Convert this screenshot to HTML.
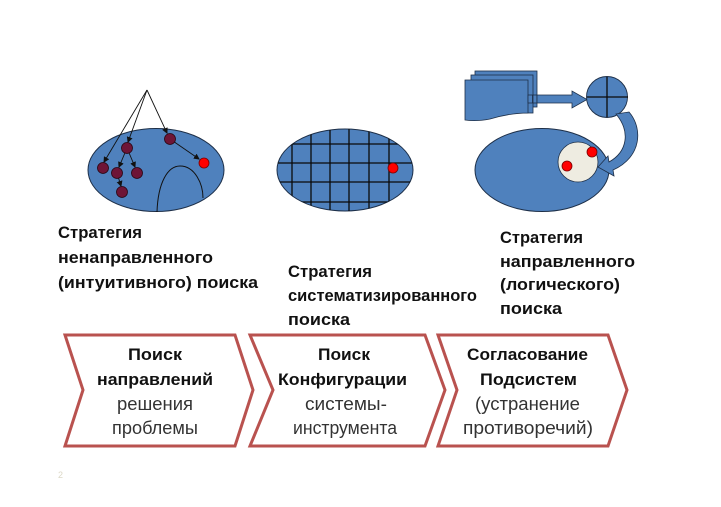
<!DOCTYPE html>
<html>
<head>
<meta charset="utf-8">
<style>
html,body{margin:0;padding:0;background:#fff;}
svg{display:block;}
text{font-family:"Liberation Sans","DejaVu Sans",sans-serif;}
.lb{font-weight:bold;font-size:17px;fill:#111;}
.cb{font-weight:bold;font-size:17px;fill:#111;}
.cr{font-size:18.5px;fill:#333;}
</style>
</head>
<body>
<svg width="721" height="507" viewBox="0 0 721 507" xmlns="http://www.w3.org/2000/svg">
<defs>
  <clipPath id="e2"><ellipse cx="345" cy="170" rx="68" ry="41"/></clipPath>
  <marker id="ah" markerWidth="6" markerHeight="6" refX="5" refY="3" orient="auto" markerUnits="userSpaceOnUse">
    <path d="M0,0 L6,3 L0,6 Z" fill="#111"/>
  </marker>
</defs>

<!-- Ellipse 1 -->
<ellipse cx="156" cy="170" rx="68" ry="41.5" fill="#4f81bd" stroke="#1d2f48" stroke-width="1"/>
<path d="M157,212 C158,182 168,166 180,166 C195,166 203,184 203,198" fill="none" stroke="#111" stroke-width="1"/>
<g stroke="#111" stroke-width="0.9" fill="none">
  <line x1="147" y1="90" x2="104" y2="162" marker-end="url(#ah)"/>
  <line x1="147" y1="90" x2="128" y2="142" marker-end="url(#ah)"/>
  <line x1="147" y1="90" x2="167" y2="133" marker-end="url(#ah)"/>
  <line x1="127" y1="148" x2="119" y2="167" marker-end="url(#ah)"/>
  <line x1="127" y1="148" x2="135" y2="167" marker-end="url(#ah)"/>
  <line x1="117" y1="173" x2="121" y2="186" marker-end="url(#ah)"/>
  <line x1="170" y1="139" x2="199" y2="159" marker-end="url(#ah)"/>
</g>
<g fill="#6e1537" stroke="#2a0512" stroke-width="0.8">
  <circle cx="103" cy="168" r="5.5"/>
  <circle cx="127" cy="148" r="5.5"/>
  <circle cx="117" cy="173" r="5.5"/>
  <circle cx="137" cy="173" r="5.5"/>
  <circle cx="122" cy="192" r="5.5"/>
  <circle cx="170" cy="139" r="5.5"/>
</g>
<circle cx="204" cy="163" r="5" fill="#ff0000" stroke="#7a0000" stroke-width="0.8"/>

<!-- Ellipse 2 -->
<ellipse cx="345" cy="170" rx="68" ry="41" fill="#4f81bd" stroke="#1d2f48" stroke-width="1"/>
<g clip-path="url(#e2)" stroke="#0a0a0a" stroke-width="1.3">
  <line x1="292" y1="120" x2="292" y2="220"/>
  <line x1="311" y1="120" x2="311" y2="220"/>
  <line x1="330" y1="120" x2="330" y2="220"/>
  <line x1="349" y1="120" x2="349" y2="220"/>
  <line x1="369" y1="120" x2="369" y2="220"/>
  <line x1="389" y1="120" x2="389" y2="220"/>
  <line x1="270" y1="144" x2="420" y2="144"/>
  <line x1="270" y1="163" x2="420" y2="163"/>
  <line x1="270" y1="182" x2="420" y2="182"/>
  <line x1="270" y1="202" x2="420" y2="202"/>
</g>
<circle cx="393" cy="168" r="5" fill="#ff0000" stroke="#7a0000" stroke-width="0.8"/>

<!-- Ellipse 3 group -->
<ellipse cx="542" cy="170" rx="67" ry="41.5" fill="#4f81bd" stroke="#1d2f48" stroke-width="1"/>
<circle cx="578" cy="162" r="20" fill="#eeece1" stroke="#1d2f48" stroke-width="0.8"/>
<circle cx="592" cy="152" r="5" fill="#ff0000" stroke="#7a0000" stroke-width="0.8"/>
<circle cx="567" cy="166" r="5" fill="#ff0000" stroke="#7a0000" stroke-width="0.8"/>

<!-- documents -->
<g fill="#4f81bd" stroke="#1d2f48" stroke-width="0.8">
  <rect x="475" y="71" width="62" height="36"/>
  <rect x="471" y="75" width="62" height="38"/>
  <path d="M465,80 L528,80 L528,113 C512,113 500,116 490,119 C480,121 472,121 465,120 Z"/>
  <rect x="528" y="95" width="4.5" height="8"/>
  <rect x="533" y="95" width="4" height="8"/>
  <path d="M537,95 L572,95 L572,91 L587,99.5 L572,108 L572,103 L537,103 Z"/>
</g>
<circle cx="607" cy="97" r="20.5" fill="#4f81bd" stroke="#1d2f48" stroke-width="0.9"/>
<line x1="587" y1="97" x2="628" y2="97" stroke="#0a0a0a" stroke-width="1.3"/>
<line x1="607" y1="77" x2="607" y2="117" stroke="#0a0a0a" stroke-width="1.3"/>
<path d="M616,114 L629,112 C643,128 642,157 613,170 L614,176 L598,167 L608,156 L609,162 C627,152 631,132 616,114 Z" fill="#4f81bd" stroke="#1d2f48" stroke-width="0.8"/>

<!-- Labels -->
<text class="lb" x="58" y="238" textLength="84" lengthAdjust="spacingAndGlyphs">Стратегия</text>
<text class="lb" x="58" y="263" textLength="155" lengthAdjust="spacingAndGlyphs">ненаправленного</text>
<text class="lb" x="58" y="288" textLength="200" lengthAdjust="spacingAndGlyphs">(интуитивного) поиска</text>

<text class="lb" x="288" y="277" textLength="84" lengthAdjust="spacingAndGlyphs">Стратегия</text>
<text class="lb" x="288" y="301" textLength="189" lengthAdjust="spacingAndGlyphs">систематизированного</text>
<text class="lb" x="288" y="325" textLength="62" lengthAdjust="spacingAndGlyphs">поиска</text>

<text class="lb" x="500" y="243" textLength="83" lengthAdjust="spacingAndGlyphs">Стратегия</text>
<text class="lb" x="500" y="267" textLength="135" lengthAdjust="spacingAndGlyphs">направленного</text>
<text class="lb" x="500" y="290" textLength="120" lengthAdjust="spacingAndGlyphs">(логического)</text>
<text class="lb" x="500" y="314" textLength="62" lengthAdjust="spacingAndGlyphs">поиска</text>

<!-- Chevrons -->
<g fill="#fff" stroke="#b9524f" stroke-width="3" stroke-linejoin="miter">
  <path d="M65,335 L235,335 L253,390 L235,446 L65,446 L83,390 Z"/>
  <path d="M250,335 L425,335 L445,390 L425,446 L250,446 L273,390 Z"/>
  <path d="M438,335 L608,335 L627,390 L608,446 L438,446 L457,390 Z"/>
</g>

<g text-anchor="middle">
  <text class="cb" x="155" y="360" textLength="54" lengthAdjust="spacingAndGlyphs">Поиск</text>
  <text class="cb" x="155" y="385" textLength="116" lengthAdjust="spacingAndGlyphs">направлений</text>
  <text class="cr" x="155" y="410" textLength="76" lengthAdjust="spacingAndGlyphs">решения</text>
  <text class="cr" x="155" y="434" textLength="86" lengthAdjust="spacingAndGlyphs">проблемы</text>

  <text class="cb" x="344" y="360" textLength="52" lengthAdjust="spacingAndGlyphs">Поиск</text>
  <text class="cb" x="342.5" y="385" textLength="129" lengthAdjust="spacingAndGlyphs">Конфигурации</text>
  <text class="cr" x="346" y="410" textLength="82" lengthAdjust="spacingAndGlyphs">системы-</text>
  <text class="cr" x="345" y="434" textLength="104" lengthAdjust="spacingAndGlyphs">инструмента</text>

  <text class="cb" x="527.5" y="360" textLength="121" lengthAdjust="spacingAndGlyphs">Согласование</text>
  <text class="cb" x="528.5" y="385" textLength="97" lengthAdjust="spacingAndGlyphs">Подсистем</text>
  <text class="cr" x="527.5" y="410" textLength="105" lengthAdjust="spacingAndGlyphs">(устранение</text>
  <text class="cr" x="528" y="434" textLength="130" lengthAdjust="spacingAndGlyphs">противоречий)</text>
</g>

<text x="58" y="478" font-size="9" fill="#dcd8c6">2</text>
</svg>
</body>
</html>
